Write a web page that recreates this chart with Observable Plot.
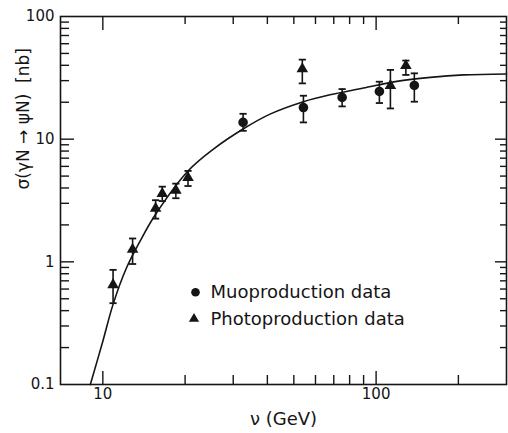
<!DOCTYPE html>
<html>
<head>
<meta charset="utf-8">
<script src="https://cdn.jsdelivr.net/npm/d3@7"></script>
<script src="https://cdn.jsdelivr.net/npm/@observablehq/plot@0.6"></script>
<style>
  html, body { margin: 0; padding: 0; background: white; }
  svg { display: block; }
</style>
</head>
<body>
<div id="chart"></div>
<script>
// Photoproduction data (triangles)
const photoNu    = [10.9, 12.85, 15.6, 16.5, 18.5, 20.5, 53.7, 112.8, 128.5];
const photoSigma = [0.65, 1.26, 2.73, 3.60, 3.83, 4.86, 37.4, 27.3, 39.8];
const photoLo    = [0.46, 0.96, 2.25, 3.13, 3.30, 4.15, 28.5, 17.8, 33.4];
const photoHi    = [0.86, 1.55, 3.18, 4.10, 4.34, 5.51, 44.5, 36.7, 43.7];

// Muoproduction data (circles)
const muoNu    = [32.6, 54.2, 75.1, 102.8, 138];
const muoSigma = [13.7, 18.1, 21.9, 24.5, 27.4];
const muoLo    = [11.7, 13.7, 18.5, 19.7, 20.2];
const muoHi    = [16.1, 22.6, 25.6, 29.4, 34.4];

// Fitted curve
const curveNu    = [9.0, 10.0, 10.9, 12.2, 13.7, 15.6, 20.5, 25.4, 32.6, 40.9, 54.2, 67.8, 89.8, 119, 158, 209, 300];
const curveSigma = [0.1, 0.225, 0.45, 0.89, 1.48, 2.44, 5.5, 8.3, 12.1, 16.0, 20.2, 23.0, 26.1, 29.6, 31.9, 33.4, 34.0];

// Axis ticks
const xMajor = [10, 100];
const xMinor = [20, 30, 40, 50, 60, 70, 80, 90, 200];
const yMajor = [1, 10];
const yMinor = [0.2,0.3,0.4,0.5,0.6,0.7,0.8,0.9, 2,3,4,5,6,7,8,9, 20,30,40,50,60,70,80,90];
const xLabels = [10, 100];
const yLabels = [0.1, 1, 10, 100];

const legendLabels = ["Muoproduction data", "Photoproduction data"];
const legendSymbols = ["circle", "triangle"];

const xDomain = [7, 300], yDomain = [0.1, 100];
const W = 508, H = 433, mT = 16, mR = 2, mB = 49, mL = 60;
const fw = W - mL - mR, fh = H - mT - mB;
// pixels per decade, to express the tick lengths on the log scales
const pxDecX = fw / Math.log10(xDomain[1] / xDomain[0]);
const pxDecY = fh / Math.log10(yDomain[1] / yDomain[0]);
const fx = px => Math.pow(10, px / pxDecX);
const fy = px => Math.pow(10, px / pxDecY);

const photo = photoNu.map((v, i) => ({nu: v, s: photoSigma[i], lo: photoLo[i], hi: photoHi[i]}));
const muo = muoNu.map((v, i) => ({nu: v, s: muoSigma[i], lo: muoLo[i], hi: muoHi[i]}));
const curve = curveNu.map((v, i) => ({nu: v, s: curveSigma[i]}));
const bars = photo.concat(muo);

// tick segments as records (value + ends on the other scale)
const vTicks = [];
xMajor.forEach(v => {
  vTicks.push({nu: v, lo: yDomain[0], hi: yDomain[0] * fy(13)});
  vTicks.push({nu: v, lo: yDomain[1] / fy(14), hi: yDomain[1]});
});
xMinor.forEach(v => {
  vTicks.push({nu: v, lo: yDomain[0], hi: yDomain[0] * fy(9)});
  vTicks.push({nu: v, lo: yDomain[1] / fy(8), hi: yDomain[1]});
});
const hTicks = [];
yMajor.forEach(v => {
  hTicks.push({s: v, a: xDomain[0], b: xDomain[0] * fx(14)});
  hTicks.push({s: v, a: xDomain[1] / fx(11), b: xDomain[1]});
});
yMinor.forEach(v => {
  hTicks.push({s: v, a: xDomain[0], b: xDomain[0] * fx(9)});
  hTicks.push({s: v, a: xDomain[1] / fx(6), b: xDomain[1]});
});

const ink = "#151515";
const cap = {
  draw(ctx, size) {
    const w = Math.sqrt(size / Math.PI);
    ctx.moveTo(-w, 0);
    ctx.lineTo(w, 0);
  }
};

const chart = Plot.plot({
  width: W,
  height: H,
  marginTop: mT,
  marginRight: mR,
  marginBottom: mB,
  marginLeft: mL,
  style: {fontFamily: "DejaVu Sans", background: "white", color: ink},
  x: {type: "log", domain: xDomain},
  y: {type: "log", domain: yDomain},
  marks: [
    Plot.frame({stroke: ink, fill: "none", strokeWidth: 1.6}),
    // inward ticks
    Plot.ruleX(vTicks, {x: "nu", y1: "lo", y2: "hi", stroke: ink, strokeWidth: 1.4}),
    Plot.ruleY(hTicks, {y: "s", x1: "a", x2: "b", stroke: ink, strokeWidth: 1.4}),
    // tick labels
    Plot.axisX(xLabels, {anchor: "bottom", tickSize: 0, tickPadding: 4, tickFormat: d => String(d), label: null, fontSize: 15, fill: ink}),
    Plot.axisY(yLabels, {anchor: "left", tickSize: 0, tickPadding: 6, tickFormat: d => String(d), label: null, fontSize: 15, fill: ink}),
    // axis titles
    Plot.text(["ν (GeV)"], {frameAnchor: "bottom", dy: 35, lineAnchor: "middle", fontSize: 18, fill: ink}),
    Plot.text(["σ(γN → ψN)  [nb]"], {frameAnchor: "left", dx: -37, dy: -11, rotate: -90, lineAnchor: "middle", fontSize: 17, fill: ink}),
    // curve
    Plot.line(curve, {x: "nu", y: "s", curve: "catmull-rom", stroke: ink, strokeWidth: 1.6}),
    // error bars
    Plot.ruleX(bars, {x: "nu", y1: "lo", y2: "hi", stroke: ink, strokeWidth: 1.6}),
    Plot.dot(bars, {x: "nu", y: "lo", symbol: cap, r: 3.6, stroke: ink, strokeWidth: 1.8}),
    Plot.dot(bars, {x: "nu", y: "hi", symbol: cap, r: 3.6, stroke: ink, strokeWidth: 1.8}),
    // markers
    Plot.dot(muo, {x: "nu", y: "s", symbol: "circle", r: 4.8, fill: ink, stroke: "none"}),
    Plot.dot(photo, {x: "nu", y: "s", symbol: "triangle", r: 4.3, fill: ink, stroke: "none"}),
    // legend
    Plot.dot([legendSymbols[0]], {frameAnchor: "top-left", dx: 135, dy: 275.7, symbol: d => d, r: 4.3, fill: ink}),
    Plot.dot([legendSymbols[1]], {frameAnchor: "top-left", dx: 133.5, dy: 302.3, symbol: d => d, r: 3.8, fill: ink}),
    Plot.text([legendLabels[0]], {frameAnchor: "top-left", dx: 150, dy: 276, textAnchor: "start", lineAnchor: "middle", fontSize: 18, fill: ink}),
    Plot.text([legendLabels[1]], {frameAnchor: "top-left", dx: 150, dy: 303, textAnchor: "start", lineAnchor: "middle", fontSize: 18, fill: ink})
  ]
});
document.getElementById("chart").appendChild(chart);
</script>
</body>
</html>
